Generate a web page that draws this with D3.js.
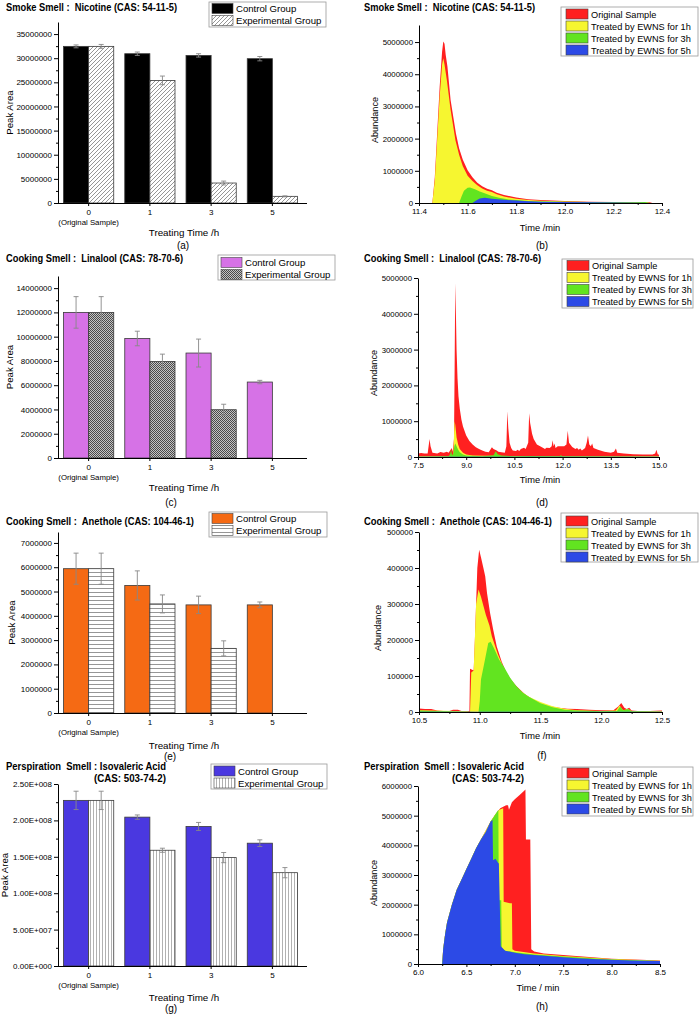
<!DOCTYPE html>
<html><head><meta charset="utf-8">
<script src="https://cdn.jsdelivr.net/npm/d3@7"></script>
<style>
body{margin:0;background:#fff}
svg{display:block}
text{font-family:"Liberation Sans",Arial,sans-serif;fill:#000}
</style>
</head><body>
<svg id="chart" width="700" height="1016"></svg>
<script>
// ---------------- DATA ----------------
const barCategories = ["0", "1", "3", "5"];
const barGroups = ["Control Group", "Experimental Group"];
const chromSeries = ["Original Sample", "Treated by EWNS for 1h", "Treated by EWNS for 3h", "Treated by EWNS for 5h"];

// (a) Nicotine peak area
const nicotineControl = [32.45e6, 30.93e6, 30.58e6, 29.9e6];
const nicotineControlErr = [0.3e6, 0.35e6, 0.35e6, 0.45e6];
const nicotineExp = [32.45e6, 25.4e6, 4.14e6, 1.38e6];
const nicotineExpErr = [0.4e6, 0.9e6, 0.4e6, 0.1e6];
const nicotineTicks = [0, 5e6, 10e6, 15e6, 20e6, 25e6, 30e6, 35e6];

// (c) Linalool peak area
const linaloolControl = [12.0e6, 9.85e6, 8.65e6, 6.26e6];
const linaloolControlErr = [1.3e6, 0.6e6, 1.15e6, 0.14e6];
const linaloolExp = [12.0e6, 7.96e6, 3.98e6, null];
const linaloolExpErr = [1.3e6, 0.6e6, 0.45e6, null];
const linaloolTicks = [0, 2e6, 4e6, 6e6, 8e6, 10e6, 12e6, 14e6];

// (e) Anethole peak area
const anetholeControl = [5.94e6, 5.25e6, 4.45e6, 4.45e6];
const anetholeControlErr = [0.64e6, 0.6e6, 0.36e6, 0.12e6];
const anetholeExp = [5.94e6, 4.49e6, 2.66e6, null];
const anetholeExpErr = [0.64e6, 0.37e6, 0.31e6, null];
const anetholeTicks = [0, 1e6, 2e6, 3e6, 4e6, 5e6, 6e6, 7e6];

// (g) Isovaleric acid peak area
const isovalericControl = [2.275e8, 2.045e8, 1.917e8, 1.687e8];
const isovalericControlErr = [0.126e8, 0.03e8, 0.055e8, 0.046e8];
const isovalericExp = [2.275e8, 1.59e8, 1.489e8, 1.282e8];
const isovalericExpErr = [0.126e8, 0.028e8, 0.07e8, 0.07e8];
const isovalericTicks = [0, 5e7, 1e8, 1.5e8, 2e8, 2.5e8];

// (b) Nicotine chromatogram [time, abundance]
const nicOriginal = [[11.40,0],[11.455,0],[11.465,0.8e6],[11.475,2.2e6],[11.485,3.6e6],[11.495,4.7e6],[11.50,5.02e6],[11.505,4.95e6],[11.51,4.6e6],[11.517,4.24e6],[11.53,3.2e6],[11.552,2.16e6],[11.565,1.7e6],[11.58,1.35e6],[11.60,1.02e6],[11.62,0.8e6],[11.64,0.63e6],[11.66,0.52e6],[11.68,0.44e6],[11.70,0.4e6],[11.72,0.32e6],[11.75,0.25e6],[11.80,0.17e6],[11.85,0.12e6],[11.90,0.09e6],[12.0,0.06e6],[12.1,0.04e6],[12.2,0.03e6],[12.3,0.025e6],[12.35,0.02e6],[12.36,0]];
const nic1h = [[11.455,0],[11.465,0.7e6],[11.475,2.0e6],[11.485,3.3e6],[11.495,4.3e6],[11.50,4.5e6],[11.505,4.3e6],[11.515,3.8e6],[11.53,2.9e6],[11.55,1.95e6],[11.565,1.5e6],[11.58,1.15e6],[11.60,0.85e6],[11.62,0.68e6],[11.64,0.55e6],[11.66,0.45e6],[11.68,0.38e6],[11.70,0.34e6],[11.72,0.27e6],[11.75,0.2e6],[11.80,0.13e6],[11.85,0.09e6],[11.90,0.07e6],[12.0,0.045e6],[12.1,0.03e6],[12.2,0.02e6],[12.3,0.025e6],[12.33,0.03e6],[12.35,0]];
const nic3h = [[11.565,0],[11.575,0.2e6],[11.585,0.38e6],[11.60,0.47e6],[11.61,0.48e6],[11.63,0.43e6],[11.65,0.36e6],[11.67,0.3e6],[11.70,0.22e6],[11.73,0.16e6],[11.77,0.11e6],[11.80,0.09e6],[11.85,0.065e6],[11.90,0.05e6],[12.0,0.04e6],[12.1,0.03e6],[12.2,0.02e6],[12.3,0.025e6],[12.33,0.03e6],[12.35,0]];
const nic5h = [[11.62,0],[11.635,0.08e6],[11.65,0.14e6],[11.67,0.16e6],[11.70,0.13e6],[11.75,0.1e6],[11.80,0.075e6],[11.85,0.055e6],[11.90,0.04e6],[12.0,0.03e6],[12.1,0.02e6],[12.2,0.015e6],[12.3,0.01e6],[12.35,0]];

// (d) Linalool chromatogram
const linOriginal = [[7.5,0.1e6],[7.6,0.11e6],[7.7,0.1e6],[7.8,0.1e6],[7.83,0.3e6],[7.86,0.5e6],[7.89,0.3e6],[7.95,0.12e6],[8.1,0.1e6],[8.2,0.14e6],[8.3,0.12e6],[8.4,0.15e6],[8.45,0.12e6],[8.5,0.18e6],[8.55,0.25e6],[8.58,0.15e6],[8.62,0.5e6],[8.64,2.5e6],[8.66,4.85e6],[8.68,4.0e6],[8.70,3.0e6],[8.73,2.2e6],[8.76,1.7e6],[8.8,1.35e6],[8.85,1.05e6],[8.9,0.85e6],[9.0,0.6e6],[9.1,0.45e6],[9.2,0.35e6],[9.3,0.27e6],[9.4,0.22e6],[9.5,0.18e6],[9.6,0.15e6],[9.7,0.13e6],[9.75,0.2e6],[9.8,0.27e6],[9.85,0.22e6],[9.9,0.2e6],[9.95,0.18e6],[10.0,0.15e6],[10.1,0.13e6],[10.2,0.12e6],[10.25,0.3e6],[10.28,1.28e6],[10.31,0.8e6],[10.35,0.4e6],[10.4,0.25e6],[10.45,0.18e6],[10.55,0.17e6],[10.6,0.2e6],[10.65,0.17e6],[10.7,0.22e6],[10.8,0.26e6],[10.85,0.22e6],[10.93,0.4e6],[10.96,1.22e6],[10.99,0.95e6],[11.05,0.65e6],[11.1,0.5e6],[11.2,0.35e6],[11.3,0.3e6],[11.4,0.25e6],[11.45,0.22e6],[11.5,0.26e6],[11.6,0.25e6],[11.66,0.3e6],[11.69,0.47e6],[11.72,0.3e6],[11.75,0.38e6],[11.78,0.25e6],[11.85,0.3e6],[11.95,0.3e6],[12.05,0.3e6],[12.12,0.35e6],[12.16,0.73e6],[12.2,0.4e6],[12.3,0.28e6],[12.4,0.22e6],[12.45,0.25e6],[12.5,0.2e6],[12.55,0.24e6],[12.6,0.18e6],[12.7,0.25e6],[12.75,0.4e6],[12.79,0.6e6],[12.83,0.35e6],[12.88,0.3e6],[12.92,0.38e6],[12.96,0.25e6],[13.1,0.2e6],[13.3,0.15e6],[13.5,0.12e6],[13.6,0.15e6],[13.66,0.24e6],[13.7,0.12e6],[13.9,0.1e6],[14.2,0.08e6],[14.5,0.07e6],[14.8,0.07e6],[14.88,0.1e6],[14.92,0.2e6],[14.96,0.08e6],[15.0,0.06e6]];
const lin1h = [[7.5,0.02e6],[8.5,0.02e6],[8.6,0.05e6],[8.62,0.6e6],[8.64,1.0e6],[8.66,0.9e6],[8.7,0.55e6],[8.75,0.35e6],[8.8,0.22e6],[8.9,0.12e6],[9.0,0.07e6],[9.2,0.04e6],[10.0,0.03e6],[11.0,0.03e6],[12.0,0.02e6],[15.0,0.02e6]];
const lin3h = [[7.5,0.01e6],[8.45,0.02e6],[8.5,0.08e6],[8.53,0.2e6],[8.56,0.05e6],[8.6,0.1e6],[8.63,0.3e6],[8.66,0.38e6],[8.7,0.3e6],[8.75,0.2e6],[8.8,0.13e6],[8.9,0.07e6],[9.0,0.04e6],[9.5,0.02e6],[9.85,0.05e6],[9.92,0.16e6],[9.98,0.08e6],[10.1,0.04e6],[10.5,0.02e6],[11.0,0.03e6],[11.9,0.02e6],[11.95,0.05e6],[12.0,0.02e6],[15.0,0.01e6]];
const lin5h = [[7.5,0.005e6],[15.0,0.005e6]];

// (f) Anethole chromatogram
const aneOriginal = [[10.5,10e3],[10.55,8e3],[10.6,8e3],[10.65,4e3],[10.7,3e3],[10.75,3e3],[10.78,6e3],[10.82,6e3],[10.85,3e3],[10.915,3e3],[10.92,120e3],[10.95,115e3],[10.96,200e3],[10.98,400e3],[10.995,451e3],[11.01,430e3],[11.03,400e3],[11.045,377e3],[11.06,330e3],[11.085,275e3],[11.11,230e3],[11.14,182e3],[11.18,140e3],[11.22,108e3],[11.26,88e3],[11.305,71e3],[11.37,50e3],[11.44,34e3],[11.5,26e3],[11.58,16e3],[11.65,12e3],[11.72,9e3],[11.8,8e3],[11.9,6e3],[12.0,5e3],[12.1,5e3],[12.14,15e3],[12.165,25e3],[12.19,12e3],[12.21,8e3],[12.23,12e3],[12.25,4e3],[12.3,3e3],[12.4,3e3],[12.5,4e3]];
const ane1h = [[10.5,5e3],[10.9,2e3],[10.92,0],[10.93,110e3],[10.95,115e3],[10.97,300e3],[10.99,340e3],[11.01,320e3],[11.05,270e3],[11.08,240e3],[11.1,210e3],[11.15,160e3],[11.2,120e3],[11.25,92e3],[11.3,70e3],[11.35,55e3],[11.4,43e3],[11.5,28e3],[11.6,16e3],[11.7,9e3],[11.8,5e3],[12.0,3e3],[12.12,4e3],[12.15,18e3],[12.18,5e3],[12.22,8e3],[12.25,3e3],[12.5,2e3]];
const ane3h = [[10.5,4e3],[10.6,3e3],[10.9,1e3],[10.99,0],[11.0,30e3],[11.01,90e3],[11.04,140e3],[11.07,192e3],[11.09,195e3],[11.12,175e3],[11.16,145e3],[11.2,125e3],[11.25,95e3],[11.3,72e3],[11.35,55e3],[11.4,43e3],[11.5,24e3],[11.6,13e3],[11.7,6e3],[11.8,4e3],[12.0,2e3],[12.13,3e3],[12.155,15e3],[12.18,5e3],[12.22,8e3],[12.25,2e3],[12.5,1e3]];
const ane5h = [[10.5,1e3],[12.5,1e3]];

// (h) Isovaleric acid chromatogram
const isoOriginal = [[6.0,0],[6.25,0],[6.26,0.5e6],[6.28,1.0e6],[6.3,1.4e6],[6.35,2.0e6],[6.4,2.5e6],[6.45,2.85e6],[6.5,3.2e6],[6.55,3.55e6],[6.6,3.9e6],[6.65,4.2e6],[6.7,4.5e6],[6.75,4.8e6],[6.8,5.05e6],[6.85,5.25e6],[6.88,5.3e6],[6.91,5.35e6],[6.93,5.35e6],[6.94,5.2e6],[6.97,5.45e6],[7.0,5.55e6],[7.05,5.7e6],[7.1,5.85e6],[7.11,5.88e6],[7.115,4.2e6],[7.16,4.2e6],[7.17,0.5e6],[7.2,0.42e6],[7.3,0.35e6],[7.5,0.3e6],[7.7,0.25e6],[8.0,0.18e6],[8.3,0.14e6],[8.5,0.12e6]];
const iso1h = [[6.0,0],[6.25,0],[6.26,0.5e6],[6.28,1.0e6],[6.3,1.4e6],[6.35,2.0e6],[6.4,2.5e6],[6.45,2.85e6],[6.5,3.2e6],[6.55,3.55e6],[6.6,3.9e6],[6.65,4.2e6],[6.7,4.5e6],[6.75,4.8e6],[6.8,5.05e6],[6.84,5.2e6],[6.88,5.25e6],[6.885,2.1e6],[6.95,2.05e6],[6.97,2.05e6],[6.975,0.5e6],[7.0,0.45e6],[7.2,0.35e6],[7.5,0.27e6],[8.0,0.17e6],[8.5,0.11e6]];
const iso3h = [[6.0,0],[6.25,0],[6.26,0.5e6],[6.28,1.0e6],[6.3,1.4e6],[6.35,2.0e6],[6.4,2.5e6],[6.45,2.85e6],[6.5,3.2e6],[6.55,3.55e6],[6.6,3.9e6],[6.65,4.2e6],[6.7,4.45e6],[6.75,4.8e6],[6.77,4.9e6],[6.79,5.0e6],[6.81,5.1e6],[6.83,5.2e6],[6.835,2.15e6],[6.86,2.15e6],[6.865,0.55e6],[6.9,0.45e6],[7.0,0.4e6],[7.2,0.32e6],[7.5,0.25e6],[8.0,0.15e6],[8.5,0.1e6]];
const iso5h = [[6.0,0],[6.25,0],[6.26,0.5e6],[6.28,1.0e6],[6.3,1.4e6],[6.35,2.0e6],[6.4,2.5e6],[6.45,2.85e6],[6.5,3.2e6],[6.55,3.55e6],[6.6,3.9e6],[6.65,4.2e6],[6.7,4.45e6],[6.75,4.8e6],[6.77,4.85e6],[6.775,3.5e6],[6.8,3.55e6],[6.83,3.4e6],[6.835,3.4e6],[6.855,0.6e6],[6.9,0.45e6],[7.0,0.38e6],[7.1,0.33e6],[7.2,0.3e6],[7.4,0.25e6],[7.6,0.2e6],[7.8,0.17e6],[8.0,0.14e6],[8.2,0.12e6],[8.5,0.1e6]];

// ---------------- DRAWING ----------------
const svg = d3.select("#chart");
const defs = svg.append("defs");
const chromColors = ["#ff2020", "#f6f630", "#62e420", "#2c4ae6"];

function pat(id, w, h, build) {
  const p = defs.append("pattern").attr("id", id).attr("patternUnits", "userSpaceOnUse").attr("width", w).attr("height", h);
  p.append("rect").attr("width", w).attr("height", h).attr("fill", "#fff");
  build(p);
}
pat("pDiag", 4, 4, p => p.append("path").attr("d", "M-1,1L1,-1M0,4L4,0M3,5L5,3").attr("stroke", "#8a8a8a").attr("stroke-width", 0.9));
pat("pCheck", 2, 2, p => {
  p.select("rect").attr("fill", "#c4c4c4");
  p.append("rect").attr("width", 1).attr("height", 1).attr("fill", "#4a4a4a");
  p.append("rect").attr("x", 1).attr("y", 1).attr("width", 1).attr("height", 1).attr("fill", "#4a4a4a");
});
pat("pHoriz", 4, 4, p => p.append("line").attr("x1", 0).attr("x2", 4).attr("y1", 0.5).attr("y2", 0.5).attr("stroke", "#8a8a8a").attr("stroke-width", 0.9));
pat("pVert", 3, 3, p => p.append("line").attr("x1", 0.5).attr("x2", 0.5).attr("y1", 0).attr("y2", 3).attr("stroke", "#a8a8a8").attr("stroke-width", 0.9));

function styleAxis(g, fs) {
  g.selectAll("path,line").attr("stroke", "#000").attr("stroke-width", 1);
  g.selectAll("text").attr("font-size", fs).attr("font-family", "Liberation Sans, Arial, sans-serif").attr("fill", "#000");
}

// title: lines [{text, width}], first line left-aligned at x, others right-aligned at anchorEnd
function drawTitle(lines, x, y, anchorEnd) {
  lines.forEach((t, i) => {
    svg.append("text").attr("x", i === 0 ? x : anchorEnd).attr("y", y + i * 12)
      .attr("text-anchor", i === 0 ? "start" : "end")
      .attr("font-size", 10.3).attr("font-weight", "bold")
      .attr("textLength", t.w).attr("lengthAdjust", "spacingAndGlyphs")
      .style("white-space", "pre").text(t.t);
  });
}

function drawLegend(x0, y0, w, h, rows, swX, swW, txX, names, fills, fs) {
  svg.append("rect").attr("x", x0).attr("y", y0).attr("width", w).attr("height", h)
    .attr("fill", "#fff").attr("stroke", "#999").attr("stroke-width", 0.8);
  names.forEach((n, i) => {
    svg.append("rect").attr("x", swX).attr("y", rows[i] - 5).attr("width", swW).attr("height", 10)
      .attr("fill", fills[i]).attr("stroke", "#444").attr("stroke-width", 0.6);
    svg.append("text").attr("x", txX).attr("y", rows[i] + 3.5).attr("font-size", fs).text(n);
  });
}

function sciFmt(v) {
  if (v === 0) return "0.00E+000";
  const e = Math.floor(Math.log10(v));
  const m = v / Math.pow(10, e);
  return m.toFixed(2) + "E+" + String(e).padStart(3, "0");
}

function barPanel(o) {
  const x = d3.scaleBand().domain(barCategories).range([58, 303]).paddingInner(0.18).paddingOuter(0.09);
  const sub = d3.scaleBand().domain(barGroups).range([0, x.bandwidth()]);
  const y = d3.scaleLinear().domain([0, o.yMax]).range([o.y0, o.yTop]);
  const series = [
    {vals: o.control, errs: o.controlErr, fill: o.color},
    {vals: o.exp, errs: o.expErr, fill: "url(#" + o.pattern + ")"}
  ];
  series.forEach((s, si) => {
    const data = barCategories.map((c, i) => ({c, v: s.vals[i], e: s.errs[i]})).filter(d => d.v != null);
    svg.append("g").selectAll("rect").data(data).join("rect")
      .attr("x", d => x(d.c) + sub(barGroups[si]))
      .attr("y", d => y(d.v))
      .attr("width", sub.bandwidth())
      .attr("height", d => y(0) - y(d.v))
      .attr("fill", s.fill).attr("stroke", "#3a3a3a").attr("stroke-width", 0.8);
    const eg = svg.append("g").attr("stroke", "#888").attr("stroke-width", 0.9);
    data.forEach(d => {
      const cx = x(d.c) + sub(barGroups[si]) + sub.bandwidth() / 2;
      eg.append("line").attr("x1", cx).attr("x2", cx).attr("y1", y(d.v - d.e)).attr("y2", y(d.v + d.e));
      eg.append("line").attr("x1", cx - 2.5).attr("x2", cx + 2.5).attr("y1", y(d.v + d.e)).attr("y2", y(d.v + d.e));
      eg.append("line").attr("x1", cx - 2.5).attr("x2", cx + 2.5).attr("y1", y(d.v - d.e)).attr("y2", y(d.v - d.e));
    });
  });
  const ya = svg.append("g").attr("transform", "translate(58,0)")
    .call(d3.axisLeft(y).tickValues(o.ticks).tickSize(4).tickSizeOuter(0).tickPadding(2).tickFormat(o.fmt || (d => d3.format("d")(d))));
  styleAxis(ya, 8);
  const minor = o.ticks.slice(0, -1).map((t, i) => (t + o.ticks[i + 1]) / 2);
  const ym = svg.append("g").attr("transform", "translate(58,0)")
    .call(d3.axisLeft(y).tickValues(minor).tickSize(2).tickSizeOuter(0).tickFormat(""));
  styleAxis(ym, 8);
  ym.select("path").remove();
  const xa = svg.append("g").attr("transform", `translate(0,${o.y0})`)
    .call(d3.axisBottom(x).tickSize(3).tickSizeOuter(0).tickPadding(3));
  styleAxis(xa, 8);
  xa.select("path").attr("d", `M58,0.5H307`);
  svg.append("text").attr("x", x("0") + x.bandwidth() / 2).attr("y", o.y0 + 21.5).attr("text-anchor", "middle").attr("font-size", 7.8).text("(Original Sample)");
  svg.append("text").attr("x", 184).attr("y", o.xLabelY).attr("text-anchor", "middle").attr("font-size", 9.8).text("Treating Time /h");
  svg.append("text").attr("x", o.tagX).attr("y", o.tagY).attr("text-anchor", "middle").attr("font-size", 10).text(o.tag);
  svg.append("text").attr("transform", `translate(${o.yLabelX},${(o.y0 + o.yTop) / 2}) rotate(-90)`)
    .attr("text-anchor", "middle").attr("font-size", 9.6).text("Peak Area");
  drawTitle(o.title, 6, o.titleY, 166);
  drawLegend(o.leg[0], o.leg[1], o.leg[2], 25, o.legRows, o.leg[0] + 3, 21, o.leg[0] + 27, barGroups, [o.color, "url(#" + o.pattern + ")"], 9.6);
}

function chromPanel(o) {
  const x = d3.scaleLinear().domain(o.xDomain).range([o.x0, o.x1]);
  const y = d3.scaleLinear().domain([0, o.yMax]).range([o.y0, o.yTop]);
  const area = d3.area().x(d => x(d[0])).y0(y(0)).y1(d => y(d[1]));
  o.series.forEach((s, i) => {
    svg.append("path").datum(s).attr("d", area).attr("fill", chromColors[i]).attr("stroke", "none");
  });
  const ya = svg.append("g").attr("transform", `translate(${o.x0},0)`)
    .call(d3.axisLeft(y).tickValues(o.yTicks).tickSize(4).tickSizeOuter(0).tickPadding(2).tickFormat(d3.format("d")));
  styleAxis(ya, 7.8);
  const ymin = o.yTicks.slice(0, -1).map((t, i) => (t + o.yTicks[i + 1]) / 2);
  const ym = svg.append("g").attr("transform", `translate(${o.x0},0)`)
    .call(d3.axisLeft(y).tickValues(ymin).tickSize(2).tickSizeOuter(0).tickFormat(""));
  styleAxis(ym, 8); ym.select("path").remove();
  const xa = svg.append("g").attr("transform", `translate(0,${o.y0})`)
    .call(d3.axisBottom(x).tickValues(o.xTicks).tickSize(3).tickSizeOuter(0).tickPadding(2).tickFormat(d3.format(".1f")));
  styleAxis(xa, 8);
  const xmin = o.xTicks.slice(0, -1).map((t, i) => (t + o.xTicks[i + 1]) / 2);
  const xm = svg.append("g").attr("transform", `translate(0,${o.y0})`)
    .call(d3.axisBottom(x).tickValues(xmin).tickSize(2).tickSizeOuter(0).tickFormat(""));
  styleAxis(xm, 8); xm.select("path").remove();
  svg.append("text").attr("x", o.xLabelX).attr("y", o.xLabelY).attr("text-anchor", "middle").attr("font-size", 9.3).text(o.xLabel);
  svg.append("text").attr("x", 542).attr("y", o.tagY).attr("text-anchor", "middle").attr("font-size", 10).text(o.tag);
  svg.append("text").attr("transform", `translate(${o.yLabelX},${o.yLabelY}) rotate(-90)`)
    .attr("text-anchor", "middle").attr("font-size", 9.1).text("Abundance");
  drawTitle(o.title, 364, o.titleY, 524);
  drawLegend(o.leg[0], o.leg[1], o.leg[2], 49, o.legRows, o.leg[0] + 5, 22, o.leg[0] + 30, chromSeries, chromColors, 9.2);
}

const titleNic = [{t: "Smoke Smell :  Nicotine (CAS: 54-11-5)", w: 171}];
const titleLin = [{t: "Cooking Smell :  Linalool (CAS: 78-70-6)", w: 177}];
const titleAne = [{t: "Cooking Smell :  Anethole (CAS: 104-46-1)", w: 188}];
const titleIso = [{t: "Perspiration  Smell : Isovaleric Acid", w: 160}, {t: "(CAS: 503-74-2)", w: 72}];

barPanel({title: titleNic, titleY: 11,
  control: nicotineControl, controlErr: nicotineControlErr, exp: nicotineExp, expErr: nicotineExpErr,
  ticks: nicotineTicks, yMax: 37.5e6, y0: 203, yTop: 22, color: "#000", pattern: "pDiag",
  xLabelY: 236, tag: "(a)", tagX: 183, tagY: 249, yLabelX: 13, leg: [209, 2, 117], legRows: [8.5, 20.5]});
barPanel({title: titleLin, titleY: 262,
  control: linaloolControl, controlErr: linaloolControlErr, exp: linaloolExp, expErr: linaloolExpErr,
  ticks: linaloolTicks, yMax: 15e6, y0: 458, yTop: 276, color: "#d672e6", pattern: "pCheck",
  xLabelY: 491, tag: "(c)", tagX: 171, tagY: 506, yLabelX: 13, leg: [218, 255, 117], legRows: [262.5, 274.5]});
barPanel({title: titleAne, titleY: 525,
  control: anetholeControl, controlErr: anetholeControlErr, exp: anetholeExp, expErr: anetholeExpErr,
  ticks: anetholeTicks, yMax: 7.45e6, y0: 713, yTop: 532, color: "#f56a14", pattern: "pHoriz",
  xLabelY: 749, tag: "(e)", tagX: 170, tagY: 760, yLabelX: 15, leg: [209, 512, 118], legRows: [518.5, 530.5]});
barPanel({title: titleIso, titleY: 770,
  control: isovalericControl, controlErr: isovalericControlErr, exp: isovalericExp, expErr: isovalericExpErr,
  ticks: isovalericTicks, yMax: 2.5e8, y0: 966, yTop: 784, color: "#4a38e0", pattern: "pVert", fmt: sciFmt,
  xLabelY: 1001, tag: "(g)", tagX: 171, tagY: 1012, yLabelX: 8, leg: [211, 764, 116], legRows: [771, 783]});

chromPanel({title: titleNic, titleY: 11,
  series: [nicOriginal, nic1h, nic3h, nic5h], xDomain: [11.4, 12.4], x0: 419, x1: 662,
  xTicks: [11.4, 11.6, 11.8, 12.0, 12.2, 12.4], yTicks: [0, 1e6, 2e6, 3e6, 4e6, 5e6],
  yMax: 5.53e6, y0: 203, yTop: 25, xLabel: "Time /min", xLabelX: 540, xLabelY: 231, tag: "(b)", tagY: 249,
  yLabelX: 378, yLabelY: 120, leg: [561, 7, 137], legRows: [14, 26, 38, 50]});
chromPanel({title: titleLin, titleY: 262,
  series: [linOriginal, lin1h, lin3h, lin5h], xDomain: [7.5, 15.0], x0: 418, x1: 659,
  xTicks: [7.5, 9.0, 10.5, 12.0, 13.5, 15.0], yTicks: [0, 1e6, 2e6, 3e6, 4e6, 5e6],
  yMax: 5e6, y0: 457, yTop: 278, xLabel: "Time /min", xLabelX: 540, xLabelY: 483, tag: "(d)", tagY: 506,
  yLabelX: 377, yLabelY: 373, leg: [562, 259, 131], legRows: [265.5, 277.5, 289.5, 301.5]});
chromPanel({title: titleAne, titleY: 525,
  series: [aneOriginal, ane1h, ane3h, ane5h], xDomain: [10.5, 12.5], x0: 419, x1: 662,
  xTicks: [10.5, 11.0, 11.5, 12.0, 12.5], yTicks: [0, 100000, 200000, 300000, 400000, 500000],
  yMax: 500000, y0: 712, yTop: 532, xLabel: "Time /min", xLabelX: 540, xLabelY: 739, tag: "(f)", tagY: 759,
  yLabelX: 381, yLabelY: 628, leg: [561, 513, 137], legRows: [521, 533, 545, 557]});
chromPanel({title: titleIso, titleY: 770,
  series: [isoOriginal, iso1h, iso3h, iso5h], xDomain: [6.0, 8.5], x0: 418, x1: 660,
  xTicks: [6.0, 6.5, 7.0, 7.5, 8.0, 8.5], yTicks: [0, 1e6, 2e6, 3e6, 4e6, 5e6, 6e6],
  yMax: 6e6, y0: 964, yTop: 786, xLabel: "Time / min", xLabelX: 538, xLabelY: 991, tag: "(h)", tagY: 1010,
  yLabelX: 377, yLabelY: 883, leg: [562, 767, 131], legRows: [773, 785, 797, 809]});
</script>
</body></html>
